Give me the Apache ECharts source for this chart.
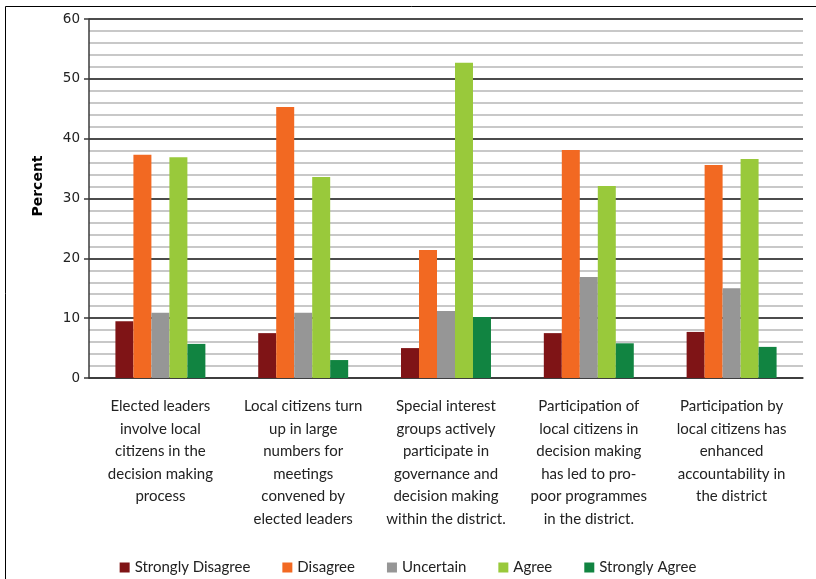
<!DOCTYPE html>
<html>
<head>
<meta charset="utf-8">
<script src="https://cdn.jsdelivr.net/npm/echarts@6/dist/echarts.min.js"></script>
<style>html,body{margin:0;padding:0;background:#fff}#c{width:816px;height:579px}</style>
</head>
<body>
<div id="c"></div>
<script>
const categories = [
  "Elected leaders\ninvolve local\ncitizens in the\ndecision making\nprocess",
  "Local citizens turn\nup in large\nnumbers for\nmeetings\nconvened by\nelected leaders",
  "Special interest\ngroups actively\nparticipate in\ngovernance and\ndecision making\nwithin the district.",
  "Participation of\nlocal citizens in\ndecision making\nhas led to pro-\npoor programmes\nin the district.",
  "Participation by\nlocal citizens has\nenhanced\naccountability in\nthe district"
];
const seriesNames = ["Strongly Disagree", "Disagree", "Uncertain", "Agree", "Strongly Agree"];
const stronglyDisagree = [9.5, 7.5, 5.0, 7.5, 7.7];
const disagree = [37.3, 45.3, 21.4, 38.1, 35.6];
const uncertain = [10.9, 10.9, 11.2, 16.9, 15.0];
const agree = [36.9, 33.6, 52.7, 32.1, 36.6];
const stronglyAgree = [5.7, 3.0, 10.2, 5.8, 5.2];
const colors = ["#7f1416", "#f26922", "#969696", "#99c93b", "#118441"];
const yTicks = { min: 0, max: 60, interval: 10 };
const axisTitle = "Percent";

const values = [stronglyDisagree, disagree, uncertain, agree, stronglyAgree];
const chart = echarts.init(document.getElementById('c'), null, { renderer: 'canvas' });
const catFont = 'Lato, "Open Sans", sans-serif';
chart.setOption({
  animation: false,
  color: colors,
  grid: { left: 89, right: 13, top: 19, bottom: 201, containLabel: false },
  legend: {
    data: seriesNames,
    left: 'center',
    top: 555,
    itemWidth: 10,
    itemHeight: 10,
    itemGap: 32,
    icon: 'rect',
    textStyle: { fontFamily: catFont, fontSize: 15, color: '#222' }
  },
  graphic: [
    { type: 'rect', shape: { x: 5.5, y: 6.5, width: 1000, height: 1000 }, style: { fill: 'none', stroke: '#000', lineWidth: 1 }, silent: true },
    { type: 'text', x: 38, y: 186, rotation: Math.PI / 2, style: { text: axisTitle, font: 'bold 14px "DejaVu Sans"', fill: '#000', align: 'center', verticalAlign: 'middle' } }
  ],
  xAxis: {
    type: 'category',
    data: categories,
    axisLine: { show: true, lineStyle: { color: '#3a3a3a', width: 1.5 } },
    axisTick: { show: false },
    axisLabel: { interval: 0, margin: 17, fontFamily: catFont, fontSize: 15, lineHeight: 22.5, color: '#222', align: 'center' },
    splitLine: { show: false }
  },
  yAxis: {
    type: 'value',
    min: yTicks.min,
    max: yTicks.max,
    interval: yTicks.interval,
    axisLine: { show: true, lineStyle: { color: '#3a3a3a', width: 1.5 } },
    axisTick: { show: true, length: 5, lineStyle: { color: '#3a3a3a', width: 1.5 } },
    axisLabel: { margin: 9, fontFamily: '"DejaVu Sans", sans-serif', fontSize: 13.5, color: '#222' },
    splitLine: { show: true, lineStyle: { color: '#111', width: 1.5 } },
    minorTick: { show: false, splitNumber: 5 },
    minorSplitLine: { show: true, lineStyle: { color: '#c8c8c8', width: 2 } }
  },
  series: seriesNames.map((n, i) => ({
    name: n,
    type: 'bar',
    data: values[i],
    barGap: '0%',
    barCategoryGap: '37%',
    itemStyle: { color: colors[i] }
  }))
});
</script>
</body>
</html>
